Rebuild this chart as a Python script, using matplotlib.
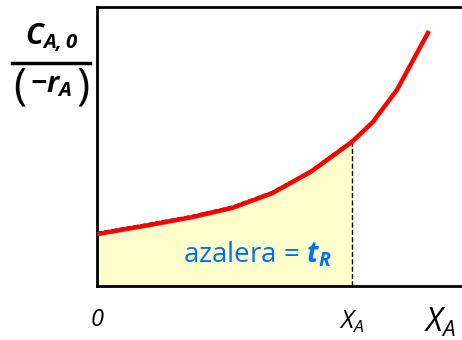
import matplotlib.pyplot as plt
from matplotlib.lines import Line2D

plt.rcParams['mathtext.fontset'] = 'custom'
plt.rcParams['mathtext.it'] = 'Open Sans:italic'
plt.rcParams['mathtext.bf'] = 'Open Sans:italic:bold'
plt.rcParams['mathtext.rm'] = 'Open Sans'

# conversion vs. C_A0/(-r_A) curve
x_conv = [0.0, 0.146, 0.262, 0.372, 0.482, 0.587, 0.70, 0.758, 0.824, 0.912]
y_levenspiel = [0.186, 0.219, 0.247, 0.280, 0.333, 0.409, 0.516, 0.588, 0.703, 0.914]
x_final = 0.70

fig = plt.figure(figsize=(4.62, 3.4), dpi=100)
ax = fig.add_axes([97 / 462, 54 / 340, 364 / 462, 279 / 340])
ax.set_xlim(0, 1.0)
ax.set_ylim(0, 1.0)

# shaded area up to X_A
xs = [x for x in x_conv if x <= x_final]
ys = y_levenspiel[:len(xs)]
ax.fill_between(xs, ys, 0, color='#FFFFCC', zorder=1)
ax.plot(xs, [y + 0.006 for y in ys], color='black', lw=1, ls='--', zorder=2)
ax.plot([x_final, x_final], [0, ys[-1]], color='black', lw=1, ls='--', zorder=2)

ax.plot(x_conv, y_levenspiel, color='#FF0000', lw=3.2, zorder=3,
        solid_capstyle='butt')

ax.spines['right'].set_visible(False)
for s in ['left', 'top', 'bottom']:
    ax.spines[s].set_linewidth(2)
ax.set_xticks([])
ax.set_yticks([])

ax.text(0.44, 0.115, r'azalera = $\mathbf{t_R}$', color='#0070F0',
        fontsize=20, family='Open Sans', ha='center', va='center')

fig.text(97 / 462, 20 / 340, '0', fontsize=17, family='Open Sans',
         style='italic', ha='center', va='center')
fig.text(352 / 462, 18 / 340, r'$\mathit{X_A}$', fontsize=18, ha='center', va='center')
fig.text(440 / 462, 18 / 340, r'$\mathit{X_A}$', fontsize=23, ha='center', va='center')

# y label drawn as a fraction
fig.text(52 / 462, 302 / 340, r'$\mathbf{C_{A,0}}$', fontsize=21,
         ha='center', va='center')
fig.add_artist(Line2D([12 / 462, 90 / 462], [277 / 340, 277 / 340],
                      transform=fig.transFigure, color='black', lw=2.5))
fig.text(20 / 462, 253 / 340, '(', fontsize=32, family='Open Sans',
         ha='center', va='center')
fig.text(51 / 462, 255 / 340, r'$\mathbf{-r_A}$', fontsize=21,
         ha='center', va='center')
fig.text(83 / 462, 253 / 340, ')', fontsize=32, family='Open Sans',
         ha='center', va='center')

fig.savefig('out.png', dpi=100)
